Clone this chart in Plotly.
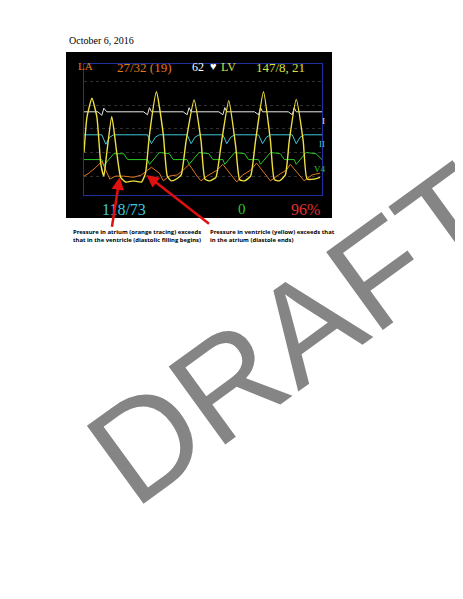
import plotly.graph_objects as go

# time axis 0..240 across the monitor, pressure in mmHg
lv_t = [0, 3, 8, 13, 17, 20, 23, 28, 33, 37, 42, 50, 58, 62, 66, 73, 80, 84, 88, 94, 98, 103, 111, 118, 122,
        127, 133, 138, 146, 153, 157, 162, 168, 173, 181, 188, 192, 197, 203, 207, 214, 221, 225, 232, 238]
lv_p = [60, 120, 152, 120, 40, 20, 60, 121, 60, 18, 10, 12, 10, 25, 90, 163, 90, 20, 12, 16, 22, 80, 149, 80, 15,
        12, 18, 70, 148, 70, 14, 12, 20, 80, 163, 80, 14, 12, 22, 80, 150, 80, 15, 15, 18]

la_t = [0, 5, 12, 18, 22, 26, 32, 40, 50, 58, 64, 68, 76, 80, 86, 94, 100, 106, 114, 118, 124, 134, 140, 150,
        154, 160, 168, 174, 184, 188, 196, 204, 208, 218, 222, 230, 238]
la_p = [20, 25, 35, 45, 30, 15, 20, 20, 18, 22, 30, 35, 25, 12, 20, 22, 30, 40, 20, 12, 20, 30, 40, 18,
        10, 22, 30, 42, 20, 12, 22, 30, 40, 20, 12, 22, 25]

ecg1_t = [0, 14, 18, 20, 23, 28, 60, 64, 66, 68, 100, 104, 106, 108, 136, 140, 142, 144, 172, 176, 178, 180, 206, 210, 212, 214, 240]
ecg1_v = [129, 129, 123, 135, 129, 129, 129, 124, 136, 129, 129, 124, 136, 129, 129, 124, 136, 129, 129, 124, 136, 129, 129, 124, 136, 129, 129]

ecg2_t = [0, 18, 22, 26, 30, 64, 68, 72, 76, 104, 108, 112, 116, 140, 144, 148, 152, 176, 180, 184, 188, 210, 214, 218, 222, 240]
ecg2_v = [90, 90, 74, 86, 90, 90, 75, 86, 90, 90, 75, 86, 90, 90, 75, 86, 90, 90, 75, 86, 90, 90, 75, 86, 90, 90]

ecg3_t = [0, 18, 20, 30, 40, 44, 64, 66, 76, 86, 90, 104, 106, 116, 126, 130, 140, 142, 152, 162, 166, 176, 178, 188, 198, 202, 212, 214, 224, 234, 240]
ecg3_v = [48, 48, 38, 58, 58, 48, 48, 40, 60, 58, 48, 48, 40, 60, 58, 48, 48, 40, 60, 58, 48, 48, 40, 60, 58, 48, 48, 40, 60, 58, 48]

W, H, OFF = 463, 599, 8


def px(x):
    return (x - OFF) / W


def py(y):
    return 1 - (y - OFF) / H


fig = go.Figure()
fig.add_shape(type="rect", xref="paper", yref="paper", x0=px(66), x1=px(332), y0=py(218), y1=py(52),
              fillcolor="black", line_width=0, layer="below")
fig.add_trace(go.Scatter(x=ecg1_t, y=ecg1_v, mode="lines", line=dict(color="#e8e8e8", width=1)))
fig.add_trace(go.Scatter(x=ecg2_t, y=ecg2_v, mode="lines", line=dict(color="#3cc8d8", width=1)))
fig.add_trace(go.Scatter(x=ecg3_t, y=ecg3_v, mode="lines", line=dict(color="#28c828", width=1)))
fig.add_trace(go.Scatter(x=la_t, y=la_p, mode="lines", line=dict(color="#e07820", width=1)))
fig.add_trace(go.Scatter(x=lv_t, y=lv_p, mode="lines",
                         line=dict(color="#f0e040", width=1.4, shape="spline", smoothing=0.5)))

texts = [
    (76, 58, "LA", "#e07820", 11), (115, 58, "27/32 (19)", "#e07820", 13),
    (198, 58, "62", "white", 12), (213, 58, "\u2665", "white", 11), (228, 58, "LV", "#d8e040", 12),
    (280, 58, "147/8, 21", "#d8e040", 13),
    (100, 209, "118/73", "#3cc8d8", 16), (242, 209, "0", "#28c828", 15),
    (305, 209, "96%", "#e03030", 16),
    (327, 114, "I", "#e8e8e8", 9), (327, 137, "II", "#3cc8d8", 9), (328, 162, "V4", "#28c828", 9),
]
for x, y, t, c, s in texts:
    fig.add_annotation(x=px(x), y=py(y), xref="paper", yref="paper", text=t, showarrow=False,
                       font=dict(family="Liberation Serif", size=s, color=c))
for y, t in [(200, "200"), (100, "100"), (0, "0")]:
    fig.add_annotation(x=-9, y=y, text=t, showarrow=False, font=dict(size=6, color="#cccccc"))

fig.add_annotation(x=px(67), y=py(33), xref="paper", yref="paper", text="October 6, 2016", showarrow=False,
                   xanchor="left", font=dict(family="Liberation Serif", size=10, color="black"))

note = dict(family="Open Sans", size=5.9, color="black")
fig.add_annotation(x=px(71), y=py(226), xref="paper", yref="paper", xanchor="left", yanchor="top", align="left",
                   text="<b>Pressure in atrium (orange tracing) exceeds<br>that in the ventricle (diastolic filling begins)</b>",
                   showarrow=False, font=note)
fig.add_annotation(x=px(208), y=py(226), xref="paper", yref="paper", xanchor="left", yanchor="top", align="left",
                   text="<b>Pressure in ventricle (yellow) exceeds that<br>in the atrium (diastole ends)</b>",
                   showarrow=False, font=note)
fig.add_annotation(x=36, y=18, ax=-8, ay=51, text="", showarrow=True, arrowhead=2, arrowsize=1,
                   arrowwidth=2.5, arrowcolor="#e01010")
fig.add_annotation(x=63, y=22, ax=64, ay=50, text="", showarrow=True, arrowhead=2, arrowsize=1,
                   arrowwidth=2.5, arrowcolor="#e01010")

fig.add_annotation(x=px(294), y=py(334), xref="paper", yref="paper", text="DRAFT", showarrow=False, textangle=-36,
                   font=dict(family="Liberation Sans", size=140, color="rgba(120,120,120,0.9)"))

fig.update_layout(width=W, height=H, margin=dict(l=0, r=0, t=0, b=0), showlegend=False,
                  paper_bgcolor="white", plot_bgcolor="black")
fig.update_xaxes(domain=[px(84), px(322)], range=[0, 240], showticklabels=False, showgrid=False,
                 zeroline=False, showline=True, mirror=True, linecolor="#2030a0", linewidth=1)
fig.update_yaxes(domain=[py(195), py(64)], range=[-12, 210], showticklabels=False, zeroline=False,
                 showgrid=True, gridcolor="#303030", griddash="dot", tickvals=[20, 60, 100, 140, 180],
                 showline=True, mirror=True, linecolor="#2030a0", linewidth=1)
fig.write_html("out.html")
